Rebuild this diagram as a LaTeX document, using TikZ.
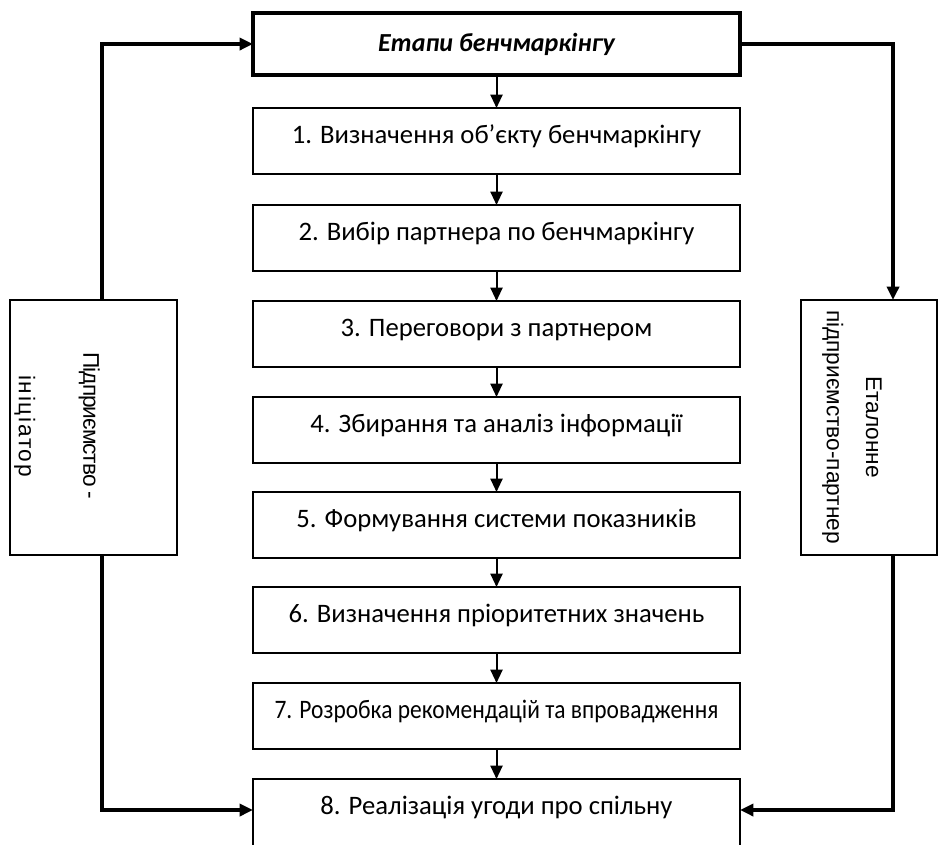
\documentclass[tikz,border=0pt]{standalone}
\usepackage{fontspec}
\setmainfont{Carlito}
\newfontfamily\sidefont{Liberation Sans}
\usetikzlibrary{arrows.meta,calc}

\tikzset{
    stagebox/.style={draw, line width=1.5pt, outer sep=0pt, anchor=north,
        minimum width=365.25pt, minimum height=49.5pt,
        inner ysep=4pt, text height=22.25pt, text depth=19.25pt,
        font=\fontsize{20}{24}\selectfont},
    titlebox/.style={draw, line width=2.5pt, outer sep=0pt,
        minimum width=365.25pt, minimum height=46.5pt,
        font=\fontsize{19.5}{23}\selectfont\bfseries\itshape},
    sidebox/.style={draw, line width=1.5pt, outer sep=0pt, minimum height=191.25pt},
    sidetext/.style={rotate=-90, align=center, font=\sidefont\fontsize{17}{20}\selectfont},
    sideline/.style={line width=2.5pt},
    steparrow/.style={line width=1.5pt}
}

\begin{document}
\begin{tikzpicture}[x=0.75pt, y=-0.75pt, >={Triangle[length=10pt,width=9pt]}]
    \clip (0,0) rectangle (946,844);

    % Draw the title block
    \node[titlebox] (title) at (496.5,44) {Етапи бенчмаркінгу};

    % Draw the stages
    \node[stagebox] (stage1) at (496.5,108) {1. Визначення об’єкту бенчмаркінгу};
    \node[stagebox] (stage2) at (496.5,205) {2. Вибір партнера по бенчмаркінгу};
    \node[stagebox] (stage3) at (496.5,301) {3. Переговори з партнером};
    \node[stagebox] (stage4) at (496.5,397) {4. Збирання та аналіз інформації};
    \node[stagebox] (stage5) at (496.5,492) {5. Формування системи показників};
    \node[stagebox] (stage6) at (496.5,587) {6. Визначення пріоритетних значень};
    \node[stagebox] (stage7) at (496.5,683) {\scalebox{0.88}[1]{7. Розробка рекомендацій та впровадження}};
    \node[stagebox, minimum height=90pt, text depth=59.75pt] (stage8) at (496.5,779) {8. Реалізація угоди про спільну};

    % Draw the arrows between the stages
    \draw[steparrow,->] (title.south) -- (stage1.north);
    \draw[steparrow,->] (stage1.south) -- (stage2.north);
    \draw[steparrow,->] (stage2.south) -- (stage3.north);
    \draw[steparrow,->] (stage3.south) -- (stage4.north);
    \draw[steparrow,->] (stage4.south) -- (stage5.north);
    \draw[steparrow,->] (stage5.south) -- (stage6.north);
    \draw[steparrow,->] (stage6.south) -- (stage7.north);
    \draw[steparrow,->] (stage7.south) -- (stage8.north);

    % Draw the side blocks
    \node[sidebox, minimum width=125.25pt] (initiator) at (93.5,427.5) {};
    \node[sidetext] (initlabel) at (57,426) {{\addfontfeature{LetterSpace=-4.5}Підприємство -}\\[28.5pt]{\addfontfeature{LetterSpace=7.5}ініціатор}};
    \node[sidebox, minimum width=102pt] (partner) at (869,427.5) {};
    \node[sidetext] (partnerlabel) at (852,427) {Еталонне\\[9.5pt]підприємство-партнер};

    % Draw the side lines
    \coordinate (lx) at (102,0);
    \coordinate (rx) at (893,0);
    \draw[sideline,->] (initiator.north -| lx) |- (title.west);
    \draw[sideline,->] (title.east) -| (partner.north -| rx);
    \draw[sideline,->] (initiator.south -| lx) |- ($(stage8.north west)+(0,31)$);
    \draw[sideline,->] (partner.south -| rx) |- ($(stage8.north east)+(0,31)$);
\end{tikzpicture}
\end{document}
